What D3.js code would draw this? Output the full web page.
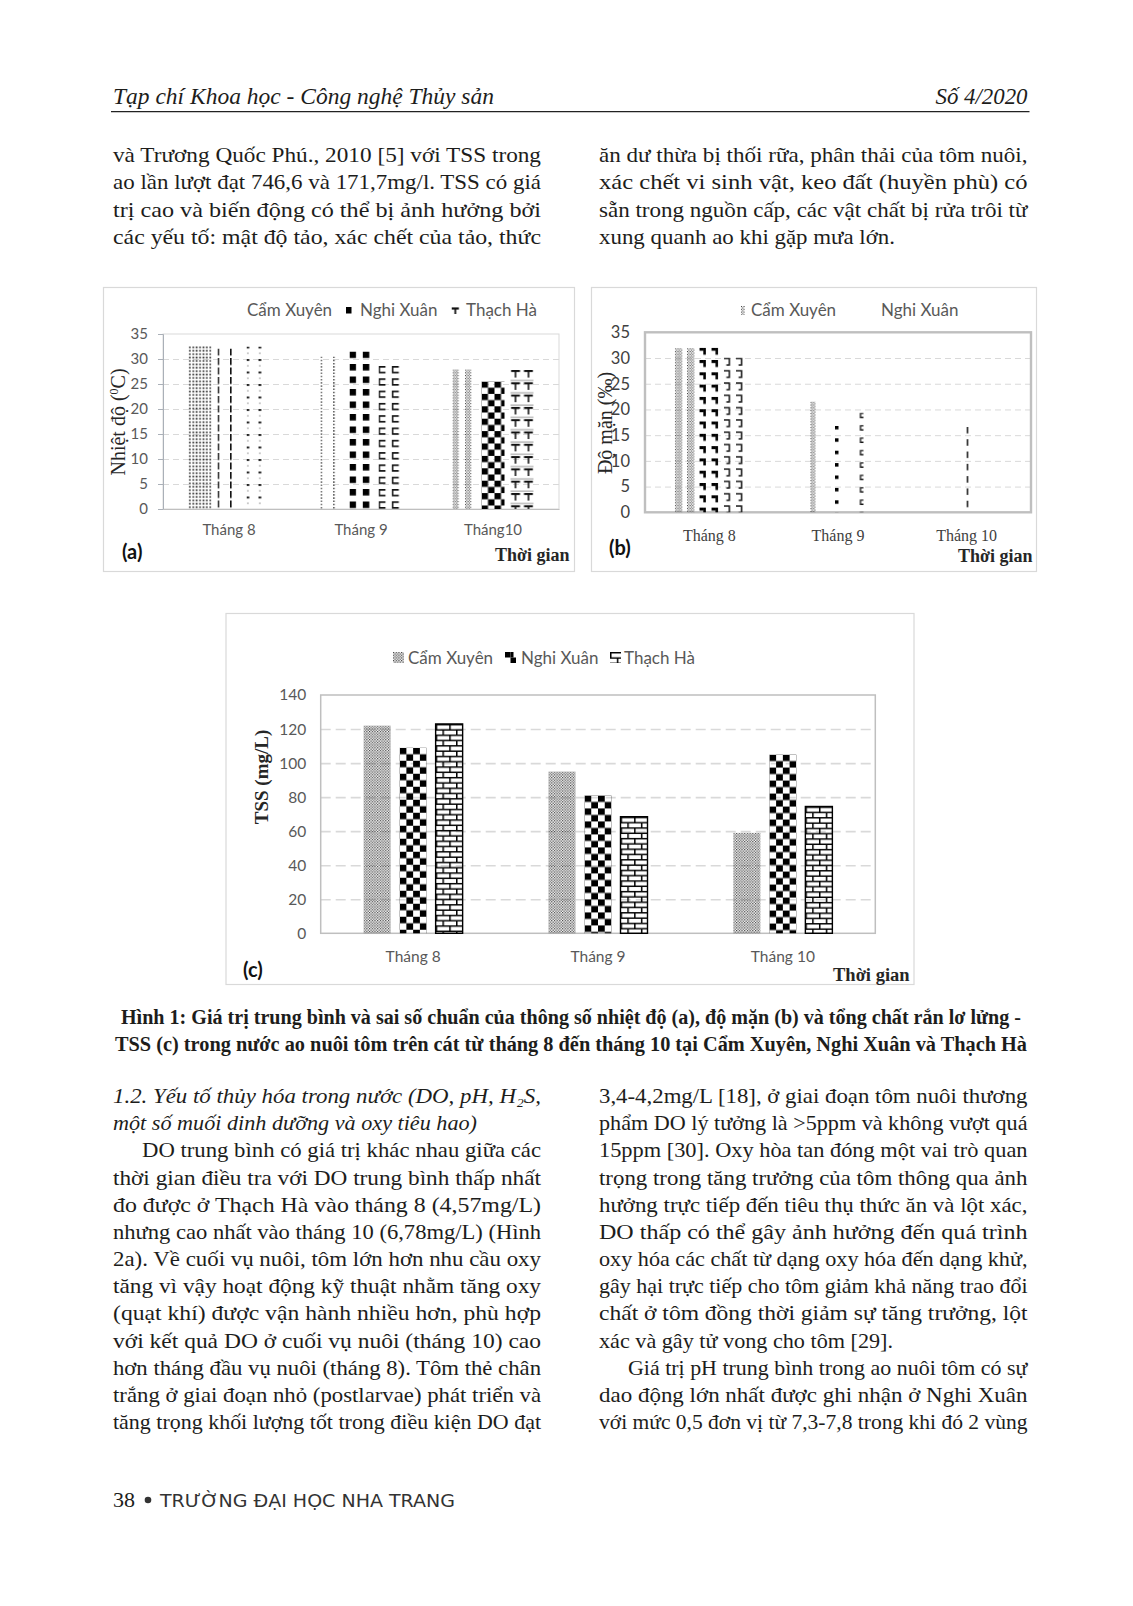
<!DOCTYPE html>
<html><head><meta charset="utf-8">
<script src="https://cdn.jsdelivr.net/npm/d3@7"></script>
<style>body{margin:0;background:#fff;} svg{display:block}</style>
</head><body><svg id="page" width="1133" height="1606"></svg>
<script>
// ================= DATA =================
const series = ["Cẩm Xuyên", "Nghi Xuân", "Thạch Hà"];
const monthsA = ["Tháng 8", "Tháng 9", "Tháng10"];
const monthsB = ["Tháng 8", "Tháng 9", "Tháng 10"];
const monthsC = ["Tháng 8", "Tháng 9", "Tháng 10"];
// (a) Nhiệt độ (°C)
const tempCamXuyen = [32.6, 30.5, 27.9];
const tempNghiXuan = [32.1, 31.5, 25.5];
const tempThachHa  = [32.5, 28.6, 27.8];
const tempTicks = [0, 5, 10, 15, 20, 25, 30, 35];
// (b) Độ mặn (‰)  (bars not visible in the figure are null)
const salCamXuyen = [31.9, 21.5, null];
const salNghiXuan = [32.0, 16.8, 16.6];
const salThachHa  = [30.1, 19.4, null];
const salTicks = [0, 5, 10, 15, 20, 25, 30, 35];
// (c) TSS (mg/L)
const tssCamXuyen = [122, 95, 59];
const tssNghiXuan = [109, 81, 105];
const tssThachHa  = [123, 68.5, 74.5];
const tssTicks = [0, 20, 40, 60, 80, 100, 120, 140];

// ================= TEXT =================
const headerLeft = "Tạp chí Khoa học - Công nghệ Thủy sản";
const headerRight = "Số 4/2020";
const textTopLeft = [
  "và Trương Quốc Phú., 2010 [5] với TSS trong",
  "ao lần lượt đạt 746,6 và 171,7mg/l. TSS có giá",
  "trị cao và biến động có thể bị ảnh hưởng bởi",
  "các yếu tố: mật độ tảo, xác chết của tảo, thức"];
const textTopRight = [
  "ăn dư thừa bị thối rữa, phân thải của tôm nuôi,",
  "xác chết vi sinh vật, keo đất (huyền phù) có",
  "sẵn trong nguồn cấp, các vật chất bị rửa trôi từ",
  "xung quanh ao khi gặp mưa lớn."];
const captionLines = [
  "Hình 1: Giá trị trung bình và sai số chuẩn của thông số nhiệt độ (a), độ mặn (b) và tổng chất rắn lơ lửng -",
  "TSS (c) trong nước ao nuôi tôm trên cát từ tháng 8 đến tháng 10  tại Cẩm Xuyên, Nghi Xuân và Thạch Hà"];
const textBottomLeft = [
  "1.2. Yếu tố thủy hóa trong nước (DO, pH, H₂S,",
  "một số muối dinh dưỡng và oxy tiêu hao)",
  "DO trung bình có giá trị khác nhau giữa các",
  "thời gian điều tra với DO trung bình thấp nhất",
  "đo được ở Thạch Hà vào tháng 8 (4,57mg/L)",
  "nhưng cao nhất vào tháng 10 (6,78mg/L) (Hình",
  "2a).  Về cuối vụ nuôi, tôm lớn hơn nhu cầu oxy",
  "tăng vì vậy hoạt động kỹ thuật nhằm tăng oxy",
  "(quạt khí) được vận hành nhiều hơn, phù hợp",
  "với kết quả DO ở cuối vụ nuôi (tháng 10) cao",
  "hơn tháng đầu vụ nuôi (tháng 8). Tôm thẻ chân",
  "trắng ở giai đoạn nhỏ (postlarvae) phát triển và",
  "tăng trọng khối lượng tốt trong điều kiện DO đạt"];
const textBottomRight = [
  "3,4-4,2mg/L [18], ở giai đoạn tôm nuôi thương",
  "phẩm DO lý tưởng là >5ppm và không vượt quá",
  "15ppm [30]. Oxy hòa tan đóng một vai trò quan",
  "trọng trong tăng trưởng của tôm thông qua ảnh",
  "hưởng trực tiếp đến tiêu thụ thức ăn và lột xác,",
  "DO thấp có thể gây ảnh hưởng đến quá trình",
  "oxy hóa các chất từ dạng oxy hóa đến dạng khử,",
  "gây hại trực tiếp cho tôm giảm khả năng trao đổi",
  "chất ở tôm đồng thời giảm sự tăng trưởng, lột",
  "xác và gây tử vong cho tôm [29].",
  "Giá trị pH trung bình trong ao nuôi tôm có sự",
  "dao động lớn nhất được ghi nhận ở Nghi Xuân",
  "với mức 0,5 đơn vị từ 7,3-7,8 trong khi đó 2 vùng"];
const footerNum = "38";
const footerText = "TRƯỜNG ĐẠI HỌC NHA TRANG";

// ================= DRAWING =================
const svg = d3.select("#page");
svg.append("rect").attr("width", 1133).attr("height", 1606).attr("fill", "#fff");
const defs = svg.append("defs");
const SERIF = "'Liberation Serif','Times New Roman',serif";
const SANS = "Lato,'Open Sans',sans-serif";
const INK = "#1d1d1b";

const R = (p, x, y, w, h, c) => p.append("rect").attr("x", x).attr("y", y).attr("width", w).attr("height", h).attr("fill", c || "#111");
const P = (p, d, sw, c) => p.append("path").attr("d", d).attr("fill", "none").attr("stroke", c || "#111").attr("stroke-width", sw);
function strip(off, cols, w) {
  return {w: w, h: 2.8, draw: p => { for (let i = 0; i < cols; i++) R(p, off + i * 1.25, (i % 2) * 1.4, 1.1, 1.1, "#444"); }};
}
const KINDS = {
  none: {w: 10, h: 10, draw: () => {}},
  solid: {w: 10, h: 10, draw: p => R(p, 0, 0, 10, 10, "#000")},
  stipple: {w: 3.4, h: 3.4, draw: p => R(p, 0.5, 0.5, 1.7, 1.7, "#333")},
  dotLine: {w: 12.7, h: 3.2, draw: p => R(p, 0, 0, 1.4, 1.6, "#444")},
  stripA: strip(0, 5, 12.5),
  dashV: {w: 12.5, h: 9.5, draw: p => R(p, 0, 0, 1.6, 7, "#111")},
  dashDot: {w: 12, h: 12.5, draw: p => { R(p, 0, 0, 2.8, 2, "#222"); R(p, 0.8, 6.2, 1.2, 1.2, "#777"); }},
  squares: {w: 13.3, h: 12.5, draw: p => R(p, 0, 0, 6.5, 6.5, "#000")},
  bracket: {w: 13.3, h: 12.3, draw: p => P(p, "M7,0.8H0.8V6.5H7", 1.5)},
  checker: {w: 13, h: 12.4, draw: p => { R(p, 0, 0, 6.5, 6.2, "#000"); R(p, 6.5, 6.2, 6.5, 6.2, "#000"); }},
  tee: {w: 13, h: 12.3, draw: p => { P(p, "M0.5,1H9.5", 2); P(p, "M5,1V7.5", 1.6); P(p, "M0,10.5H13", 0.8, "#777"); }},
  teeSmall: {w: 10, h: 10, draw: p => { P(p, "M0,1.5H7.5", 2.2); P(p, "M3.8,1.5V7", 1.8); }},
  stripB: strip(0, 6, 12.2),
  stripB9: strip(7, 4, 40),
  stripLeg: strip(0, 3, 40),
  zig: {w: 12.2, h: 12.3, draw: p => { R(p, 0, 0, 4.5, 3, "#000"); R(p, 4, 0, 2.5, 7, "#000"); }},
  hook: {w: 12.2, h: 12.3, draw: p => P(p, "M0,1H5.5V7.5H2.5", 1.5)},
  sqSmall: {w: 40, h: 12.4, draw: p => R(p, 7, 0, 3.5, 3.5, "#000")},
  bracketSmall: {w: 40, h: 12.4, draw: p => P(p, "M11,0.8H8V5H11", 1.3)},
  dashOne: {w: 40, h: 12.3, draw: p => R(p, 10, 0, 1.5, 6.5, "#111")},
  fineDots: {w: 2.7, h: 2.7, draw: p => { R(p, 0, 0, 1.2, 1.2, "#3a3a3a"); R(p, 1.35, 1.35, 1.2, 1.2, "#3a3a3a"); }},
  checkerC: {w: 13.5, h: 13, draw: p => { R(p, 0, 0, 6.75, 6.5, "#000"); R(p, 6.75, 6.5, 6.75, 6.5, "#000"); }},
  checkerLeg: {w: 11, h: 11, draw: p => { R(p, 0, 0, 5.5, 5.5, "#000"); R(p, 5.5, 5.5, 5.5, 5.5, "#000"); R(p, 5.5, 0, 3, 5.5, "#000"); }},
  brick: {w: 13.6, h: 10.6, draw: p => { P(p, "M0,0.75H13.6M0,6.05H13.6", 1.5, "#000"); P(p, "M0.75,0.75V6.05M7.55,6.05V11.35", 1.5, "#000"); }}
};
function makePattern(id, kind, x, y) {
  const k = KINDS[kind];
  const p = defs.append("pattern").attr("id", id).attr("patternUnits", "userSpaceOnUse")
    .attr("x", x).attr("y", y).attr("width", k.w).attr("height", k.h);
  k.draw(p);
  return "url(#" + id + ")";
}

function drawChart(cfg) {
  const g = svg.append("g");
  g.append("rect").attr("x", cfg.box[0]).attr("y", cfg.box[1]).attr("width", cfg.box[2]).attr("height", cfg.box[3])
    .attr("fill", "#fff").attr("stroke", "#d9d9d9").attr("stroke-width", 1.2);
  const pl = cfg.plot;
  const x0 = d3.scaleBand().domain(cfg.cats).range([pl.l, pl.r]);
  const B = x0.bandwidth();
  const pi = (cfg.step - cfg.barW) / cfg.step;
  const po = (B / cfg.step - series.length + pi) / 2;
  const x1 = d3.scaleBand().domain(series).range([0, B]).paddingInner(pi).paddingOuter(po);
  const y = d3.scaleLinear().domain([0, cfg.max]).range([pl.b, pl.t]);

  // grid
  const grid = g.append("g").attr("transform", `translate(${pl.l},0)`)
    .call(d3.axisLeft(y).tickValues(cfg.ticks.filter(t => t > 0 && t < cfg.max)).tickSize(-(pl.r - pl.l)).tickFormat(""));
  grid.select(".domain").remove();
  grid.selectAll("line").attr("stroke", "#d9d9d9").attr("stroke-width", cfg.gridW).attr("stroke-dasharray", cfg.dash);
  // frame
  g.append("rect").attr("x", pl.l).attr("y", pl.t).attr("width", pl.r - pl.l).attr("height", pl.b - pl.t)
    .attr("fill", "none").attr("stroke", cfg.frameColor).attr("stroke-width", cfg.frameW);

  // bars
  cfg.values.forEach((vals, si) => {
    vals.forEach((v, mi) => {
      if (v == null) return;
      const bx = x0(cfg.cats[mi]) + x1(series[si]);
      const fill = makePattern(`p${cfg.id}${si}${mi}`, cfg.pats[si][mi], bx, y(v));
      const r = g.append("rect").attr("x", bx).attr("y", y(v)).attr("width", x1.bandwidth())
        .attr("height", y(0) - y(v)).attr("fill", fill);
      if (cfg.pats[si][mi] === "brick") r.attr("stroke", "#000").attr("stroke-width", 1.4);
    });
  });

  // y axis
  const ya = g.append("g").attr("transform", `translate(${pl.l},0)`)
    .call(d3.axisLeft(y).tickValues(cfg.ticks).tickSize(cfg.tickSize).tickPadding(cfg.tickPad).tickFormat(d3.format("d")));
  ya.selectAll("text").attr("font-family", SANS).attr("font-size", cfg.tickFont).attr("fill", cfg.tickColor);
  if (cfg.tickSize > 0) {
    ya.select(".domain").attr("stroke", "#aab0b8");
    ya.selectAll("line").attr("stroke", "#aab0b8");
  } else {
    ya.select(".domain").remove();
  }
  // x axis
  const xa = g.append("g").attr("transform", `translate(0,${pl.b})`)
    .call(d3.axisBottom(x0).tickSize(0));
  if (cfg.tickSize > 0) xa.select(".domain").attr("stroke", "#bfbfbf"); else xa.select(".domain").remove();
  xa.selectAll("text").attr("y", cfg.xLabOff).attr("dy", "0.35em")
    .attr("font-family", cfg.xFont).attr("font-size", cfg.xFontSize).attr("fill", cfg.tickColor);

  // legend
  cfg.legend.forEach((L, i) => {
    if (L.mk) {
      const f = makePattern(`lg${cfg.id}${i}`, L.mk, L.mx, L.my);
      g.append("rect").attr("x", L.mx).attr("y", L.my).attr("width", L.mw).attr("height", L.mh).attr("fill", f);
    }
    g.append("text").attr("x", L.tx).attr("y", cfg.legendY).attr("dy", "0.35em")
      .attr("font-family", SANS).attr("font-size", cfg.legendFont).attr("fill", "#595959").text(series[i]);
  });

  // y title
  const yt = g.append("text").attr("transform", `translate(${cfg.yTitle.x},${cfg.yTitle.y}) rotate(-90)`)
    .attr("text-anchor", "middle").attr("dy", "0.35em").attr("font-family", SERIF)
    .attr("font-size", cfg.yTitle.size).attr("fill", "#262626");
  if (cfg.yTitle.bold) yt.attr("font-weight", "bold");
  cfg.yTitle.parts.forEach(pt => {
    const ts = yt.append("tspan").text(pt.t);
    if (pt.sup) ts.attr("font-size", cfg.yTitle.size * 0.6).attr("baseline-shift", "super");
  });
  // panel letter
  g.append("text").attr("x", cfg.letter.x).attr("y", cfg.letter.y).attr("font-family", SANS)
    .attr("font-weight", "bold").attr("font-size", 20).attr("fill", "#111").text(cfg.letter.t);
  // x title
  g.append("text").attr("x", cfg.xTitle.x).attr("y", cfg.xTitle.y).attr("font-family", SERIF)
    .attr("font-weight", "bold").attr("font-size", cfg.xTitle.size).attr("fill", "#262626").text("Thời gian");
}

drawChart({
  id: "a", box: [103.5, 287.5, 471, 284], plot: {l: 163, r: 559, t: 334, b: 509}, max: 35,
  ticks: tempTicks, cats: monthsA, values: [tempCamXuyen, tempNghiXuan, tempThachHa],
  barW: 23, step: 29, gridW: 1, dash: "6,4", frameColor: "#d9d9d9", frameW: 1,
  pats: [["stipple", "dotLine", "stripA"], ["dashV", "squares", "checker"], ["dashDot", "bracket", "tee"]],
  tickSize: 5, tickPad: 10, tickFont: 15, tickColor: "#595959", xLabOff: 21, xFont: SANS, xFontSize: 15,
  legendY: 310, legendFont: 17,
  legend: [{tx: 247}, {tx: 360, mk: "solid", mx: 346, my: 307, mw: 5.5, mh: 6.5}, {tx: 466, mk: "teeSmall", mx: 451.5, my: 307, mw: 8, mh: 7}],
  yTitle: {x: 118, y: 422, size: 20, parts: [{t: "Nhiệt độ ("}, {t: "0", sup: true}, {t: "C)"}]},
  letter: {x: 122, y: 559, t: "(a)"}, xTitle: {x: 495, y: 561, size: 18}
});
drawChart({
  id: "b", box: [591.5, 287.5, 445, 284], plot: {l: 645, r: 1031, t: 332.3, b: 512.3}, max: 35,
  ticks: salTicks, cats: monthsB, values: [salCamXuyen, salNghiXuan, salThachHa],
  barW: 20, step: 24.5, gridW: 1, dash: "6,4", frameColor: "#bfbfbf", frameW: 2.4,
  pats: [["stripB", "stripB9", "none"], ["zig", "sqSmall", "dashOne"], ["hook", "bracketSmall", "none"]],
  tickSize: 0, tickPad: 15, tickFont: 16.5, tickColor: "#404040", xLabOff: 22.7, xFont: SERIF, xFontSize: 16,
  legendY: 310, legendFont: 17,
  legend: [{tx: 751, mk: "stripLeg", mx: 741, my: 306, mw: 4, mh: 9}, {tx: 881}],
  yTitle: {x: 605, y: 423, size: 20, parts: [{t: "Độ mặn (‰)"}]},
  letter: {x: 609, y: 555, t: "(b)"}, xTitle: {x: 958, y: 562, size: 18}
});
drawChart({
  id: "c", box: [226, 613.5, 688, 371], plot: {l: 320.7, r: 875.3, t: 695, b: 933.3}, max: 140,
  ticks: tssTicks, cats: monthsC, values: [tssCamXuyen, tssNghiXuan, tssThachHa],
  barW: 27, step: 36, gridW: 1.6, dash: "10,5", frameColor: "#bfbfbf", frameW: 1.5,
  pats: [["fineDots", "fineDots", "fineDots"], ["checkerC", "checkerC", "checkerC"], ["brick", "brick", "brick"]],
  tickSize: 0, tickPad: 14.5, tickFont: 15.5, tickColor: "#595959", xLabOff: 23.7, xFont: SANS, xFontSize: 15.5,
  legendY: 657.7, legendFont: 17,
  legend: [{tx: 408, mk: "fineDots", mx: 393, my: 652, mw: 11, mh: 11}, {tx: 521, mk: "checkerLeg", mx: 505, my: 652, mw: 11, mh: 11}, {tx: 624, mk: "brick", mx: 610, my: 652, mw: 11, mh: 11}],
  yTitle: {x: 261, y: 777, size: 19, bold: true, parts: [{t: "TSS (mg/L)"}]},
  letter: {x: 243, y: 977, t: "(c)"}, xTitle: {x: 833, y: 981, size: 18.5}
});

// ---------- page text ----------
function textLine(str, x, y, w, opt) {
  opt = opt || {};
  const t = svg.append("text").attr("x", x).attr("y", y).attr("font-family", SERIF)
    .attr("font-size", opt.size || 21).attr("fill", INK).text(str);
  if (w) t.attr("textLength", w).attr("lengthAdjust", "spacingAndGlyphs");
  if (opt.italic) t.attr("font-style", "italic");
  if (opt.bold) t.attr("font-weight", "bold");
  if (opt.anchor) t.attr("text-anchor", opt.anchor);
  return t;
}
function block(lines, x, colW, y0, lh, opts) {
  lines.forEach((ln, i) => {
    const ind = (opts.indent || []).includes(i) ? 29 : 0;
    const w = (opts.ragged && opts.ragged[i]) || (colW - ind);
    textLine(ln, x + ind, y0 + i * lh, w, {italic: (opts.italic || []).includes(i), size: 21.5});
  });
}
// header
textLine(headerLeft, 113, 104, 381, {italic: true, size: 23});
textLine(headerRight, 1027.5, 104, 92, {italic: true, size: 23, anchor: "end"});
svg.append("line").attr("x1", 111).attr("x2", 1029.5).attr("y1", 111.7).attr("y2", 111.7).attr("stroke", "#222").attr("stroke-width", 1.3);
// top columns
block(textTopLeft, 113, 428, 162, 27.3, {});
block(textTopRight, 599, 428.5, 162, 27.3, {ragged: {3: 296}});
// caption
textLine(captionLines[0], 121, 1023.5, 900, {bold: true, size: 20});
textLine(captionLines[1], 115, 1050.5, 912, {bold: true, size: 20});
// bottom columns
block(textBottomLeft, 113, 428, 1103, 27.17, {italic: [0, 1], indent: [2], ragged: {1: 364}});
block(textBottomRight, 599, 428.5, 1103, 27.17, {indent: [10], ragged: {9: 294}});
// footer
textLine(footerNum, 113, 1507, 22, {size: 21});
svg.append("circle").attr("cx", 148).attr("cy", 1500).attr("r", 3.3).attr("fill", "#333");
svg.append("text").attr("x", 160).attr("y", 1507).attr("font-family", "'DejaVu Sans',sans-serif").attr("font-size", 17)
  .attr("fill", "#333").attr("textLength", 295).attr("lengthAdjust", "spacingAndGlyphs").text(footerText);
</script>
</body></html>
